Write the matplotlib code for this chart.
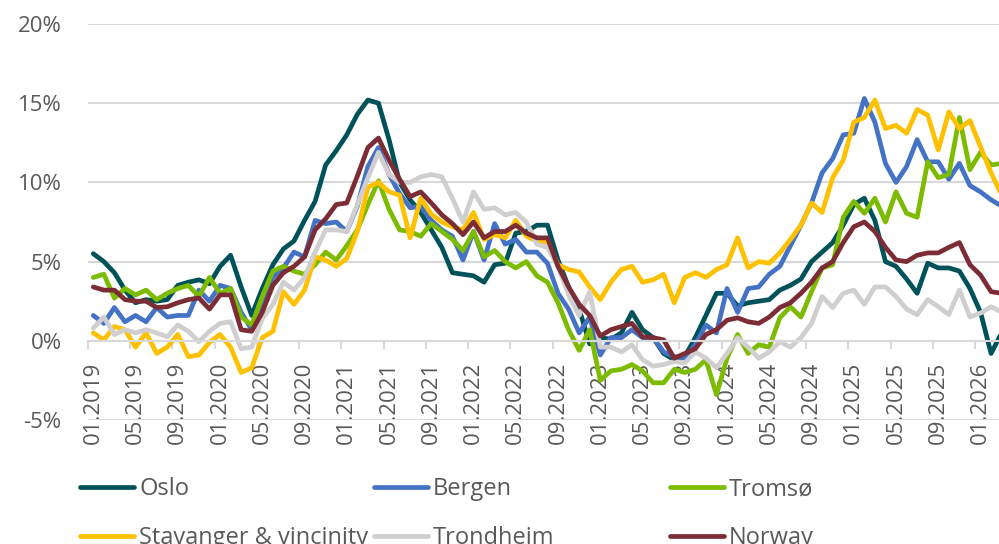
import numpy as np
import pandas as pd
import matplotlib
matplotlib.use("Agg")
import matplotlib.pyplot as plt
from matplotlib.ticker import FuncFormatter

# monthly 12-month change (%), 01.2019 - 03.2026
months = pd.date_range("2019-01-01", "2026-03-01", freq="MS").strftime("%m.%Y").tolist()

oslo = [5.5, 5.0, 4.3, 3.2, 2.4, 2.6, 2.5, 2.6, 3.5, 3.7, 3.85, 3.6, 4.7, 5.4, 3.4, 1.6,
        3.3, 4.8, 5.8, 6.3, 7.6, 8.8, 11.1, 12.0, 13.0, 14.3, 15.2, 15.0, 12.7, 10.0, 8.9, 8.1,
        7.0, 5.9, 4.3, 4.2, 4.1, 3.7, 4.8, 4.9, 6.8, 6.9, 7.3, 7.3, 5.1, 3.4, 2.0, -0.2,
        0.2, 0.1, 0.5, 1.8, 0.7, 0.2, -0.8, -1.2, -1.0, 0.2, 1.6, 3.0, 3.0, 2.2, 2.4, 2.5,
        2.6, 3.2, 3.5, 3.9, 5.0, 5.6, 6.2, 7.3, 8.6, 9.0, 7.6, 5.0, 4.7, 3.9, 3.0, 4.9,
        4.6, 4.6, 4.4, 3.3, 1.8, -0.8, 0.5]
bergen = [1.6, 1.1, 2.1, 1.2, 1.6, 1.2, 2.1, 1.5, 1.6, 1.6, 3.2, 2.5, 3.5, 3.3, 1.8, 0.7,
          2.5, 4.0, 4.6, 5.6, 5.3, 7.6, 7.4, 7.5, 6.9, 8.5, 11.0, 12.2, 10.5, 9.3, 8.4, 8.5,
          7.6, 7.0, 6.6, 5.1, 6.9, 5.1, 7.4, 6.1, 6.4, 5.6, 5.6, 4.9, 3.0, 2.0, 0.5, 1.5,
          -0.9, 0.2, 0.2, 0.7, 0.2, 0.2, -0.7, -1.0, -1.1, -0.25, 1.0, 0.5, 3.3, 1.8, 3.3, 3.4,
          4.2, 4.7, 6.0, 7.3, 8.7, 10.6, 11.5, 13.0, 13.1, 15.3, 13.8, 11.2, 10.0, 11.0, 12.7, 11.3,
          11.3, 10.2, 11.2, 9.8, 9.4, 8.9, 8.5]
tromso = [4.0, 4.2, 2.7, 3.3, 2.9, 3.2, 2.6, 3.0, 3.3, 3.5, 2.8, 4.0, 3.0, 3.3, 1.5, 1.0,
          2.8, 4.4, 4.7, 4.4, 4.2, 4.8, 5.6, 5.1, 6.0, 7.0, 8.6, 10.1, 8.3, 7.0, 6.9, 6.6,
          7.4, 6.9, 6.4, 5.7, 6.9, 5.3, 5.7, 5.0, 4.6, 5.0, 4.1, 3.7, 2.4, 0.7, -0.6, 0.7,
          -2.5, -1.9, -1.8, -1.5, -1.9, -2.65, -2.65, -1.8, -2.0, -1.8, -1.2, -3.4, -1.1, 0.4, -0.8, -0.25,
          -0.4, 1.45, 2.15, 1.5, 3.1, 4.6, 4.8, 7.8, 8.8, 8.05, 9.0, 7.5, 9.4, 8.05, 7.8, 11.3,
          10.3, 10.5, 14.1, 10.8, 11.9, 11.1, 11.2]
stavanger = [0.5, 0.06, 0.9, 0.7, -0.4, 0.5, -0.8, -0.4, 0.4, -1.0, -0.9, -0.1, 0.4, -0.4, -2.0, -1.7,
             0.2, 0.6, 3.1, 2.3, 3.2, 5.3, 5.1, 4.7, 5.2, 6.9, 9.7, 10.0, 9.4, 9.2, 6.5, 9.0,
             8.0, 7.5, 7.2, 7.0, 8.1, 6.4, 6.7, 6.5, 7.6, 6.6, 6.3, 6.25, 4.8, 4.5, 4.35, 3.4,
             2.6, 3.7, 4.5, 4.7, 3.7, 3.85, 4.2, 2.4, 4.0, 4.3, 4.0, 4.5, 4.8, 6.5, 4.6, 5.0,
             4.9, 5.55, 6.4, 7.3, 8.7, 8.1, 10.3, 11.4, 13.8, 14.1, 15.2, 13.4, 13.6, 13.1, 14.6, 14.25,
             12.05, 14.45, 13.4, 13.9, 12.25, 10.6, 9.2]
trondheim = [0.8, 1.5, 0.4, 0.7, 0.5, 0.7, 0.5, 0.25, 1.0, 0.6, -0.06, 0.6, 1.1, 1.2, -0.5, -0.4,
             1.4, 2.3, 3.7, 3.2, 4.0, 5.6, 7.0, 7.0, 6.9, 8.6, 10.3, 11.9, 10.5, 10.0, 10.0, 10.35,
             10.5, 10.35, 9.0, 7.5, 9.4, 8.3, 8.4, 7.95, 8.1, 7.5, 6.1, 5.9, 4.7, 2.9, 1.6, 3.1,
             -0.4, -0.4, -0.7, -0.25, -1.2, -1.6, -1.5, -1.3, -1.4, -0.7, -1.1, -1.7, -0.8, 0.2, -0.4, -1.1,
             -0.7, -0.06, -0.4, 0.2, 1.1, 2.8, 2.1, 3.0, 3.2, 2.3, 3.4, 3.4, 2.8, 2.0, 1.65, 2.6,
             2.15, 1.65, 3.2, 1.5, 1.75, 2.15, 1.8]
norway = [3.4, 3.2, 3.2, 2.6, 2.5, 2.5, 2.1, 2.15, 2.4, 2.6, 2.7, 2.0, 2.9, 2.9, 0.7, 0.6,
          1.8, 3.5, 4.3, 4.7, 5.3, 7.0, 7.7, 8.6, 8.7, 10.4, 12.2, 12.8, 11.4, 10.2, 9.1, 9.4,
          8.7, 7.95, 7.4, 6.7, 7.5, 6.5, 6.9, 6.9, 7.3, 6.8, 6.5, 6.5, 4.7, 3.4, 2.3, 1.6,
          0.3, 0.7, 0.9, 1.1, 0.25, 0.2, 0.06, -1.1, -0.8, -0.5, 0.4, 0.7, 1.3, 1.45, 1.2, 1.1,
          1.5, 2.1, 2.4, 3.0, 3.7, 4.6, 5.0, 6.2, 7.2, 7.5, 6.9, 5.9, 5.1, 5.0, 5.4, 5.55,
          5.55, 5.9, 6.2, 4.8, 4.15, 3.1, 3.0]

names = ["Oslo", "Bergen", "Tromsø", "Stavanger & vincinity", "Trondheim", "Norway"]
series = [oslo, bergen, tromso, stavanger, trondheim, norway]
colors = ["#00525A", "#4472C4", "#7CBB00", "#FFC000", "#D0CECE", "#7B2C34"]

txt = "#595959"
grid = "#D9D9D9"
plt.rcParams['font.family'] = ['Open Sans', 'DejaVu Sans']

fig = plt.figure(figsize=(9.99, 5.44), dpi=100)
ax = fig.add_axes([88 / 999, 1 - 420 / 544, 911 / 999, 396 / 544])

x = np.arange(len(months))
lines = []
for name, vals, c in zip(names, series, colors):
    ln, = ax.plot(x, vals, color=c, lw=3.4, solid_joinstyle='round',
                  solid_capstyle='round', label=name)
    lines.append(ln)

ax.set_ylim(-5, 20)
ax.set_xlim(-0.45, 85.75)
ax.set_yticks([-5, 0, 5, 10, 15, 20])
ax.yaxis.set_major_formatter(FuncFormatter(lambda v, p: f"{v:.0f}%"))
ax.grid(axis='y', color=grid, lw=1.5)
ax.set_axisbelow(True)
ax.tick_params(axis='y', length=0, pad=19, labelsize=16, labelcolor=txt)

for s in ['top', 'right', 'left']:
    ax.spines[s].set_visible(False)
ax.spines['bottom'].set_position(('data', 0))
ax.spines['bottom'].set_color(grid)
ax.spines['bottom'].set_linewidth(1.5)

# category labels every 4 months, tick marks between categories
ax.set_xticks(x[::4])
ax.set_xticklabels(months[::4], rotation=90)
ax.tick_params(axis='x', which='major', length=0, pad=15, labelsize=16, labelcolor=txt)
ax.set_xticks(x[::4] - 0.5, minor=True)
ax.tick_params(axis='x', which='minor', length=6, width=1.5, color=grid)

# legend: three equal-width columns
cols = [(0, 3), (1, 4), (2, 5)]
xs = [80, 374, 670]
for (a, b), xp in zip(cols, xs):
    fig.legend([lines[a], lines[b]], [names[a], names[b]], loc='upper left',
               bbox_to_anchor=(xp / 999, 1 - 477 / 544), frameon=False,
               borderpad=0, borderaxespad=0, handlelength=2.3, handletextpad=0.2,
               labelspacing=1.05, fontsize=17, labelcolor=txt)

fig.savefig("out.png", dpi=100)
